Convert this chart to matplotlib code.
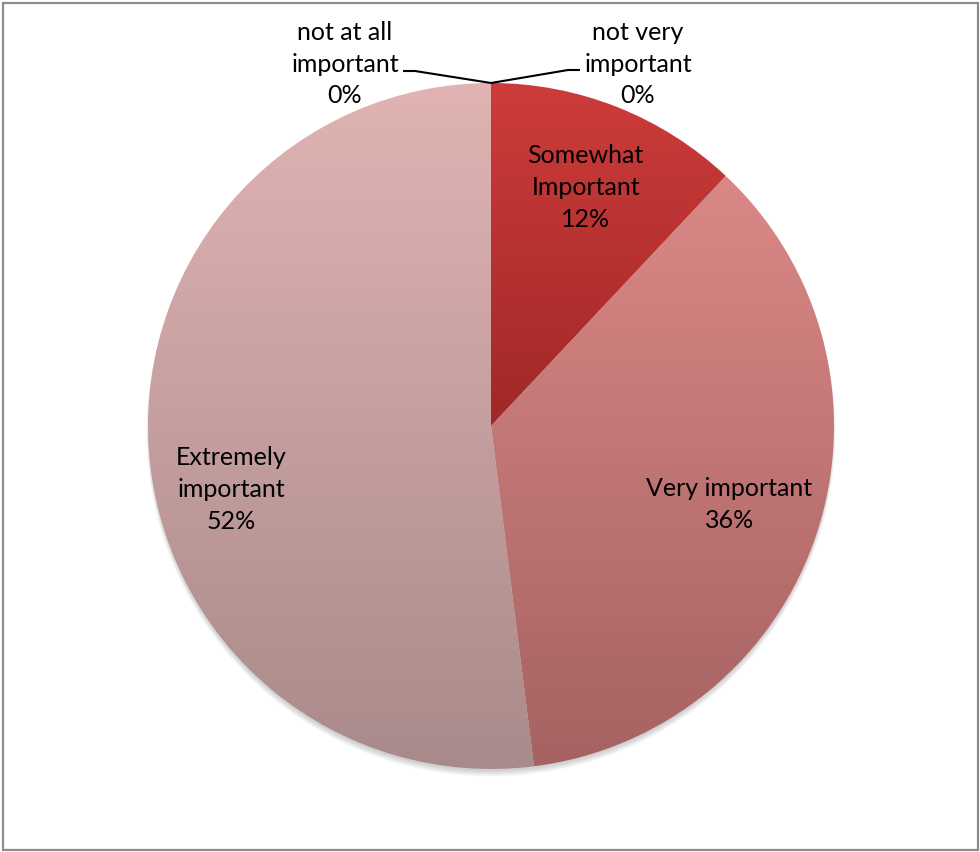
import numpy as np
import matplotlib
matplotlib.use("Agg")
import matplotlib.pyplot as plt
from matplotlib.patches import Rectangle, Circle
from matplotlib.colors import LinearSegmentedColormap

# Survey answers, clockwise from 12 o'clock
categories = ["not very\nimportant", "Somewhat\nImportant", "Very important",
              "Extremely\nimportant", "not at all\nimportant"]
values = [0, 12, 36, 52, 0]
pct_labels = ["0%", "12%", "36%", "52%", "0%"]

# top / bottom colour of each slice's vertical gradient
grad_top = ["#cd3c3a", "#cd3c3a", "#da8886", "#e1b3b3", "#e1b3b3"]
grad_bottom = ["#a02828", "#a02828", "#a66262", "#a98a8a", "#a98a8a"]

W, H = 980, 853
fig = plt.figure(figsize=(W / 100, H / 100), dpi=100)
ax = fig.add_axes([0, 0, 1, 1])
ax.set_aspect("equal")

plt.rcParams["font.family"] = ["Lato", "DejaVu Sans"]

cx, cy, R = 491, H - 427, 343

# soft drop shadow beneath the pie
for i in range(6):
    ax.add_patch(Circle((cx, cy - 3 - i * 0.6), R - 1 + i * 0.5,
                        facecolor="#000000", edgecolor="none", alpha=0.03,
                        zorder=0.5))

wedges, _ = ax.pie(values, startangle=90, counterclock=False, radius=R,
                   center=(cx, cy), frame=True,
                   wedgeprops=dict(linewidth=0))

for w, top, bot in zip(wedges, grad_top, grad_bottom):
    w.set_facecolor("none")
    w.set_edgecolor("none")
    ext = w.get_path().get_extents()
    if ext.width < 1e-6 or ext.height < 1e-6:
        continue
    cmap = LinearSegmentedColormap.from_list("g", [bot, top])
    grad = np.linspace(0, 1, 256).reshape(-1, 1)
    im = ax.imshow(grad, cmap=cmap, origin="lower", aspect="auto",
                   extent=[ext.x0, ext.x1, ext.y0, ext.y1], zorder=1,
                   interpolation="bilinear")
    im.set_clip_path(w)

ax.set_xlim(0, W)
ax.set_ylim(0, H)
ax.set_aspect("equal")
ax.axis("off")

fs = 18
ls = 1.47
# labels inside the non-zero slices
total = sum(values)
start = 90.0
label_r = {1: 0.75, 2: 0.73, 3: 0.78}
label_ang_shift = {3: 10.0}
for i, v in enumerate(values):
    span = 360.0 * v / total
    mid = start - span / 2
    if v > 0:
        a = np.deg2rad(mid + label_ang_shift.get(i, 0.0))
        r = R * label_r.get(i, 0.75)
        ax.text(cx + r * np.cos(a), cy + r * np.sin(a),
                categories[i] + "\n" + pct_labels[i], ha="center", va="center",
                fontsize=fs, linespacing=ls, zorder=3)
    start -= span

# zero-value slices get outside labels with leader lines
top_pt = (cx, cy + R)
ax.text(345, H - 64, categories[4] + "\n" + pct_labels[4], ha="center",
        va="center", fontsize=fs, linespacing=ls, zorder=3)
ax.plot([403, 415, top_pt[0]], [H - 72, H - 72, top_pt[1]], color="black",
        lw=1.5, zorder=3, solid_capstyle="butt")
ax.text(638, H - 64, categories[0] + "\n" + pct_labels[0], ha="center",
        va="center", fontsize=fs, linespacing=ls, zorder=3)
ax.plot([top_pt[0], 568, 580], [top_pt[1], H - 71, H - 71], color="black",
        lw=1.5, zorder=3, solid_capstyle="butt")

# chart border
ax.add_patch(Rectangle((2.5, 2.5), 975, H - 6.5, facecolor="none",
                       edgecolor="#8c8c8c", linewidth=1.6, zorder=4))

fig.savefig("out.png", dpi=100)
